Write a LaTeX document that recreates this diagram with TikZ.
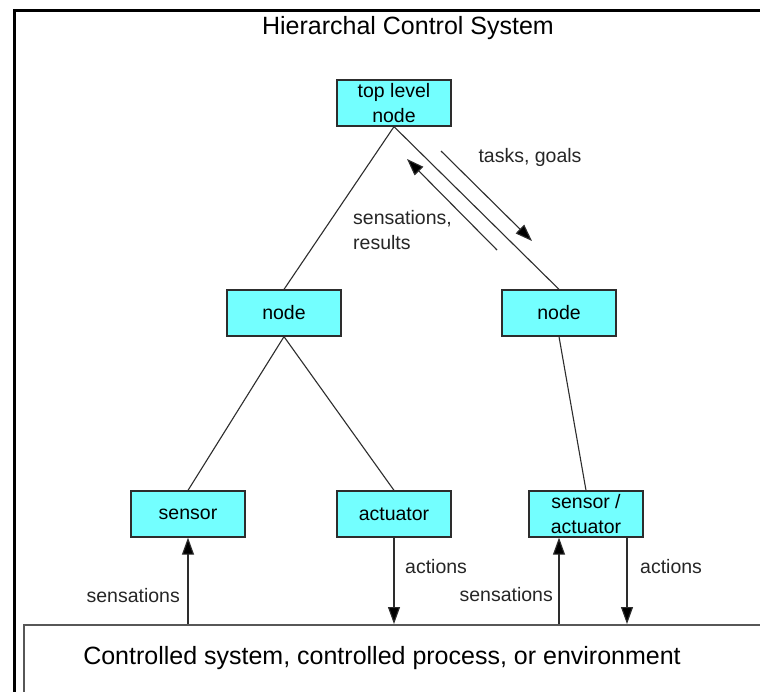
\documentclass[tikz,border=0pt]{standalone}
\usepackage{fontspec}
\setmainfont{Liberation Sans}
\usetikzlibrary{arrows.meta}
\definecolor{boxcyan}{RGB}{115,255,255}
\definecolor{edgecol}{RGB}{45,45,45}
\begin{document}
\begin{tikzpicture}[x=1pt,y=-1pt,
  box/.style={draw=edgecol, line width=1.3pt, fill=boxcyan, minimum width=114pt, minimum height=46pt, inner sep=0pt, align=center, font=\fontsize{19.5}{25}\selectfont},
  lbl/.style={font=\fontsize{19.5}{25}\selectfont, inner sep=0pt, align=left, text=black!85},
  bigtext/.style={font=\fontsize{25}{30}\selectfont, inner sep=0pt},
  link/.style={draw=edgecol, line width=1.1pt},
  arr/.style={link, -{Triangle[width=12pt,length=17pt,fill=black]}}]
\useasboundingbox (0,0) rectangle (760,692);
\clip (0,0) rectangle (760,692);
\fill[white] (0,0) rectangle (760,692);
% outer frame
\draw[line width=3pt] (14,700) -- (14,11) -- (770,11);
% title
\node[bigtext] (title) at (408,28) {Hierarchal Control System};
% environment
\node[draw=edgecol!80, line width=1.5pt, anchor=north west, minimum width=800pt, minimum height=100pt, inner sep=0pt] (env) at (23,624) {};
\node[bigtext] (envtext) at (382,658) {Controlled system, controlled process, or environment};
% nodes
\node[box] (top) at (394,103) {top level\\node};
\node[box] (nl) at (284,313) {node};
\node[box] (nr) at (559,313) {node};
\node[box] (sensor) at (188,514) {sensor};
\node[box] (act) at (394,514) {actuator};
\node[box] (sa) at (586,514) {sensor /\\actuator};
% tree links
\draw[link] (top.south) -- (nl.north);
\draw[link] (top.south) -- (nr.north);
\draw[link] (nl.south) -- (sensor.north);
\draw[link] (nl.south) -- (act.north);
\draw[link] (nr.south) -- (sa.north);
% tasks / sensations arrows
\coordinate (tg1) at (441,151);
\coordinate (tg2) at (532,241);
\coordinate (sr1) at (497,250);
\coordinate (sr2) at (407,159);
\draw[arr] (tg1) -- (tg2);
\draw[arr] (sr1) -- (sr2);
\node[lbl] (tglbl) at (530,157) {tasks, goals};
\node[lbl, anchor=west] (srlbl) at (353,230) {sensations,\\results};
% bottom arrows
\coordinate (saIn) at ([xshift=-27pt]sa.south);
\coordinate (saOut) at ([xshift=41pt]sa.south);
\draw[arr] (env.north -| sensor.south) -- (sensor.south);
\draw[arr] (act.south) -- (act.south |- env.north);
\draw[arr] (env.north -| saIn) -- (saIn);
\draw[arr] (saOut) -- (saOut |- env.north);
\node[lbl, anchor=east] (sl1) at (180,596) {sensations};
\node[lbl, anchor=west] (al1) at (405,567) {actions};
\node[lbl, anchor=east] (sl2) at (553,595) {sensations};
\node[lbl, anchor=west] (al2) at (640,567) {actions};
\end{tikzpicture}
\end{document}
